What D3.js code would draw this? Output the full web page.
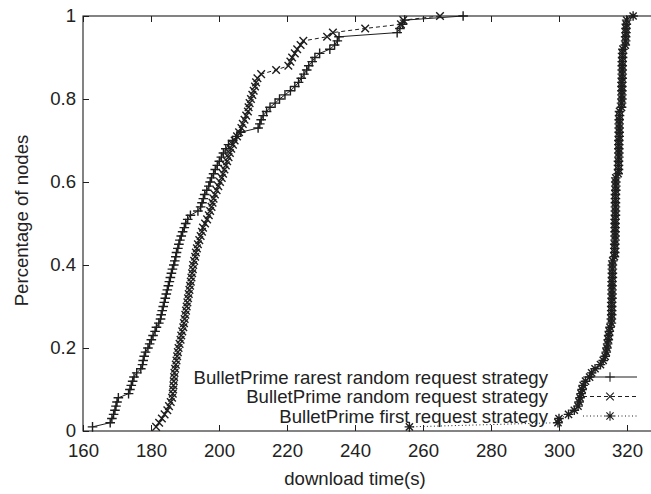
<!DOCTYPE html>
<html>
<head>
<meta charset="utf-8">
<script src="https://cdnjs.cloudflare.com/ajax/libs/d3/7.8.5/d3.min.js"></script>
<style>
body{margin:0;background:#fff}
svg{display:block}
text{font-family:"Liberation Sans",Arial,Helvetica,sans-serif;fill:#222}
</style>
</head>
<body>
<div id="chart"></div>
<script>
// download times (s) of each node, sorted; the y value is the CDF rank
const timesRarest = [
  162.8,168.0,168.5,169.0,169.4,169.7,170.0,170.4,173.4,173.8,
  174.2,174.6,175.0,175.8,177.0,177.5,177.7,178.0,178.4,179.1,
  179.6,180.1,180.6,181.2,181.6,182.3,182.8,183.0,183.3,183.6,
  183.9,184.2,184.5,184.8,185.1,185.4,185.7,186.0,186.3,186.7,
  187.0,187.3,187.5,187.9,188.2,188.5,188.9,189.3,189.8,190.2,
  190.8,191.6,193.8,194.6,195.0,195.4,195.8,196.4,197.0,197.4,
  197.8,198.4,198.9,199.5,200.1,200.7,201.3,202.0,202.8,204.0,
  205.2,206.4,211.5,212.0,212.4,213.0,214.0,215.0,216.5,217.8,
  219.4,221.0,222.3,223.4,224.2,225.0,225.8,226.4,227.4,228.2,
  229.6,232.6,234.0,234.8,235.3,252.4,253.2,254.0,254.6,271.8
];
const timesRandom = [
  181.5,182.4,183.2,184.0,184.8,185.3,185.8,186.2,186.4,186.5,
  186.6,186.7,186.8,186.9,187.1,187.3,187.5,187.7,187.9,188.1,
  188.4,188.7,188.9,189.2,189.5,189.7,189.9,190.1,190.3,190.5,
  190.7,190.9,191.1,191.3,191.5,191.7,191.9,192.1,192.3,192.4,
  192.7,193.0,193.2,193.5,193.8,194.2,194.6,195.0,195.3,195.9,
  196.5,197.0,197.4,197.8,198.1,198.4,198.8,199.3,199.8,200.3,
  200.8,201.2,201.6,202.0,202.4,202.8,203.2,203.6,204.1,204.6,
  205.3,205.9,206.6,207.0,207.5,208.0,208.5,208.7,209.0,209.4,
  209.8,210.2,210.6,210.9,211.3,212.4,216.8,220.4,221.0,221.5,
  222.3,223.0,224.0,224.8,231.8,233.5,243.0,253.5,254.2,265.0
];
const timesFirst = [
  256.0,299.7,300.0,302.8,304.5,305.6,305.9,306.2,306.5,306.8,
  307.1,307.8,309.0,309.6,310.6,312.2,313.0,313.6,313.9,314.1,
  314.3,314.5,314.6,314.8,315.0,315.4,315.4,315.5,315.5,315.5,
  315.5,315.6,315.6,315.6,315.6,315.6,315.7,315.7,315.7,315.7,
  315.8,316.3,316.4,316.4,316.4,316.5,316.5,316.5,316.5,316.5,
  316.5,316.6,316.6,316.6,316.6,316.6,316.6,316.7,316.7,316.7,
  316.7,317.4,317.5,317.5,317.5,317.6,317.6,317.6,317.6,317.6,
  317.7,317.7,317.7,317.7,317.7,317.8,317.8,318.4,318.4,318.5,
  318.5,318.5,318.5,318.5,318.6,318.6,318.6,318.6,318.6,318.7,
  318.7,318.8,319.5,319.6,319.6,319.7,319.7,319.8,319.9,321.8
];
const seriesNames = [
  "BulletPrime rarest random request strategy",
  "BulletPrime random request strategy",
  "BulletPrime first request strategy"
];
const xTicks = [160,180,200,220,240,260,280,300,320];
const yTicks = [0,0.2,0.4,0.6,0.8,1];

const W = 651, H = 494;
const mg = {l:83, t:16, r:-10, b:63};
const ink = "#1e1e1e";
const fs = 18.6;

const x = d3.scaleLinear().domain([160,330]).range([mg.l, W - mg.r]);
const y = d3.scaleLinear().domain([0,1]).range([H - mg.b, mg.t]);

const svg = d3.select("#chart").append("svg").attr("width", W).attr("height", H);

// point shapes: +, x and * (plus over cross)
function mark(type, s) {
  const plus = `M${-s},0H${s}M0,${-s}V${s}`;
  const c = s * 0.75;
  if (type === "plus") return plus;
  if (type === "cross") return `M${-s},${-s}L${s},${s}M${-s},${s}L${s},${-s}`;
  return plus + `M${-c},${-c}L${c},${c}M${-c},${c}L${c},${-c}`;
}
const markSize = {plus: 4.8, cross: 3.8, star: 4.8};

const series = [
  {name: seriesNames[0], times: timesRarest, pt: "plus", dash: null},
  {name: seriesNames[1], times: timesRandom, pt: "cross", dash: "4,3"},
  {name: seriesNames[2], times: timesFirst, pt: "star", dash: "1,2.5"}
];

const line = d3.line().x(d => x(d[0])).y(d => y(d[1]));

series.forEach(s => {
  const n = s.times.length;
  const pts = s.times.map((t, i) => [t, (i + 1) / n]);
  const g = svg.append("g");
  g.append("path").attr("d", line(pts)).attr("fill", "none")
    .attr("stroke", ink).attr("stroke-width", 1)
    .attr("stroke-dasharray", s.dash);
  g.selectAll("path.m").data(pts).join("path").attr("class", "m")
    .attr("transform", d => `translate(${x(d[0])},${y(d[1])})`)
    .attr("d", mark(s.pt, markSize[s.pt]))
    .attr("fill", "none").attr("stroke", ink).attr("stroke-width", 1.4);
});

// frame
svg.append("rect").attr("x", x(160)).attr("y", y(1))
  .attr("width", x(330) - x(160)).attr("height", y(0) - y(1))
  .attr("fill", "none").attr("stroke", ink).attr("stroke-width", 1.1);

// axes, ticks pointing inward
const axB = svg.append("g").attr("transform", `translate(0,${y(0)})`)
  .call(d3.axisBottom(x).tickValues(xTicks).tickSizeInner(-6).tickSizeOuter(0).tickPadding(13));
const axT = svg.append("g").attr("transform", `translate(0,${y(1)})`)
  .call(d3.axisTop(x).tickValues(xTicks).tickSizeInner(-6).tickSizeOuter(0).tickFormat(""));
const axL = svg.append("g").attr("transform", `translate(${x(160)},0)`)
  .call(d3.axisLeft(y).tickValues(yTicks).tickSizeInner(-6).tickSizeOuter(0).tickPadding(7)
    .tickFormat(d => (d === 0 || d === 1) ? String(d) : d.toFixed(1)));
[axB, axT, axL].forEach(a => {
  a.select(".domain").remove();
  a.selectAll(".tick line").attr("stroke", ink);
  a.selectAll("text").attr("font-size", fs).attr("font-family", null).attr("fill", ink);
});

// titles
svg.append("text").attr("x", (x(160) + W) / 2 - 12).attr("y", 485)
  .attr("text-anchor", "middle").attr("font-size", fs).text("download time(s)");
svg.append("text").attr("transform", `translate(28,${(y(0) + y(1)) / 2 - 3}) rotate(-90)`)
  .attr("text-anchor", "middle").attr("font-size", fs).text("Percentage of nodes");

// legend
const legY = [377, 396.5, 416];
series.forEach((s, i) => {
  const ly = legY[i];
  svg.append("text").attr("x", 548).attr("y", ly).attr("dy", "0.35em")
    .attr("text-anchor", "end").attr("font-size", fs).text(s.name);
  svg.append("line").attr("x1", 583).attr("x2", 637).attr("y1", ly).attr("y2", ly)
    .attr("stroke", ink).attr("stroke-width", 1).attr("stroke-dasharray", s.dash);
  svg.append("path").attr("transform", `translate(610,${ly})`)
    .attr("d", mark(s.pt, markSize[s.pt]))
    .attr("fill", "none").attr("stroke", ink).attr("stroke-width", 1.1);
});
</script>
</body>
</html>
